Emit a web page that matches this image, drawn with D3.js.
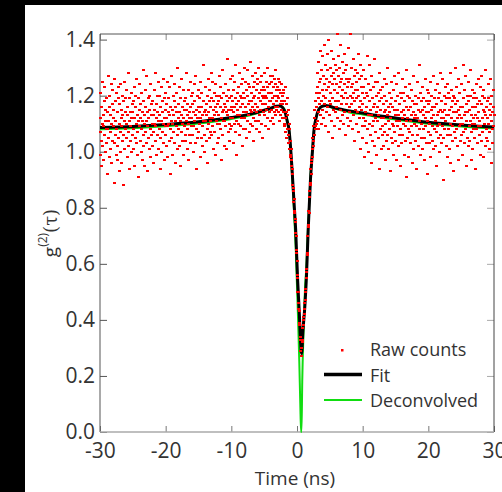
<!DOCTYPE html>
<html>
<head>
<meta charset="utf-8">
<script src="https://cdn.jsdelivr.net/npm/d3@7"></script>
<style>
  body { margin: 0; background: #000; }
  svg { display: block; }
</style>
</head>
<body>
<div id="chart"></div>
<script>
// raw coincidence counts, one value every 0.05 ns from -30 ns (one row = 1 ns)
var rawStart = -30, rawStep = 0.05;
var rawCounts = [
  1.12,0.99,1.21,1.07,1.04,1.16,0.95,1.10,1.25,1.02,1.13,1.09,0.97,1.18,1.06,1.23,1.11,1.00,1.15,1.08,
  1.03,1.19,1.14,0.92,1.08,1.27,1.05,1.11,0.98,1.20,1.16,1.01,1.07,1.13,1.24,0.96,1.10,1.17,1.04,1.22,
  1.09,1.15,1.12,0.89,1.26,1.03,1.06,1.18,1.11,0.99,1.08,1.21,1.14,0.97,1.02,1.19,1.23,1.05,1.10,0.93,
  1.17,1.07,1.00,1.24,1.12,1.09,1.15,0.96,1.20,1.04,1.13,1.18,0.88,1.06,1.11,1.25,1.01,1.14,1.08,1.19,
  1.05,1.22,1.10,1.13,0.98,1.16,1.07,1.28,1.02,1.11,0.94,1.19,1.09,1.14,1.04,1.21,1.12,1.00,1.17,1.06,
  1.14,1.01,1.18,1.08,1.23,0.95,1.12,1.05,1.16,1.20,1.03,1.10,1.26,0.99,1.13,1.07,1.19,0.91,1.11,1.15,
  1.09,1.24,1.04,1.12,1.17,1.00,1.21,1.08,0.97,1.14,1.11,1.29,1.06,1.02,1.18,1.13,0.95,1.10,1.22,1.07,
  1.16,1.03,1.11,1.27,1.09,1.14,0.93,1.19,1.05,1.12,1.20,1.01,1.15,1.08,1.24,0.98,1.13,1.06,1.17,1.10,
  1.02,1.18,1.13,1.07,0.96,1.22,1.10,1.15,1.04,1.28,1.09,1.12,0.99,1.17,1.06,1.20,1.14,1.01,1.25,1.11,
  1.13,1.08,1.20,0.94,1.16,1.05,1.11,1.23,1.00,1.14,1.18,1.07,1.10,1.26,1.03,1.12,0.97,1.19,1.09,1.15,
  1.21,1.06,1.12,1.17,1.02,1.25,1.09,0.98,1.14,1.10,1.19,1.04,1.23,1.13,0.92,1.16,1.08,1.27,1.11,1.05,
  1.10,1.15,0.99,1.20,1.13,1.07,1.18,1.24,1.03,1.11,1.16,0.96,1.09,1.21,1.14,1.06,1.30,1.01,1.12,1.17,
  1.08,1.23,1.14,1.02,1.11,1.19,0.95,1.13,1.07,1.26,1.10,1.16,1.04,1.12,1.22,0.99,1.15,1.09,1.18,1.06,
  1.19,1.04,1.11,1.15,1.28,1.08,1.13,1.01,1.17,1.10,0.97,1.22,1.14,1.06,1.12,1.25,1.03,1.16,1.09,1.20,
  1.12,1.17,1.06,1.21,1.00,1.14,1.09,1.24,1.11,1.18,1.03,1.13,1.27,0.94,1.15,1.08,1.20,1.12,1.05,1.16,
  1.22,1.07,1.14,1.10,1.19,0.98,1.25,1.12,1.05,1.16,1.21,1.09,1.13,1.02,1.18,1.11,1.31,1.06,1.14,1.00,
  1.15,1.11,1.23,1.04,1.17,1.13,1.08,1.20,0.96,1.14,1.26,1.10,1.18,1.05,1.12,1.22,1.07,1.16,1.11,1.28,
  1.06,1.19,1.12,1.25,1.09,1.15,1.01,1.18,1.13,1.21,1.07,1.16,0.99,1.24,1.11,1.14,1.20,1.03,1.17,1.10,
  1.18,1.13,1.05,1.20,1.27,1.10,1.16,1.08,1.23,1.12,0.97,1.19,1.14,1.29,1.06,1.15,1.11,1.21,1.02,1.17,
  1.11,1.24,1.16,1.09,1.14,1.01,1.20,1.13,1.18,1.33,1.07,1.15,1.22,1.10,1.04,1.19,1.12,1.26,1.08,1.16,
  1.20,1.09,1.15,1.27,1.12,1.18,1.03,1.22,1.14,1.10,1.25,1.16,1.07,1.19,1.31,1.11,1.17,0.99,1.21,1.13,
  1.15,1.23,1.10,1.18,1.06,1.28,1.13,1.20,1.16,1.09,1.24,1.12,1.19,1.02,1.17,1.26,1.14,1.21,1.08,1.30,
  1.12,1.19,1.25,1.08,1.16,1.22,1.14,1.05,1.20,1.29,1.11,1.17,1.24,1.13,1.18,1.07,1.23,1.15,1.32,1.10,
  1.21,1.14,1.18,1.27,1.09,1.16,1.23,1.12,1.19,1.04,1.25,1.15,1.20,1.11,1.28,1.17,1.08,1.22,1.14,1.26,
  1.16,1.24,1.11,1.19,1.30,1.13,1.21,1.07,1.18,1.25,1.15,1.22,1.10,1.27,1.17,1.20,1.05,1.23,1.14,1.19,
  1.22,1.13,1.28,1.17,1.20,1.09,1.25,1.15,1.19,1.23,1.12,1.30,1.16,1.21,1.08,1.24,1.18,1.14,1.27,1.11,
  1.18,1.25,1.15,1.21,1.12,1.27,1.19,1.23,1.10,1.17,1.26,1.14,1.20,1.24,1.16,1.29,1.13,1.22,1.18,1.15,
  1.23,1.16,1.20,1.26,1.14,1.19,1.22,1.11,1.25,1.17,1.21,1.13,1.18,1.24,1.15,1.20,1.12,1.17,1.22,1.14,
  1.21,1.10,1.18,1.09,1.23,1.12,1.07,1.17,1.14,1.05,1.19,1.08,1.13,1.03,1.15,1.06,1.10,1.01,1.08,0.99,
  1.04,0.98,1.01,0.95,0.97,0.92,0.94,0.88,0.87,0.86,0.82,0.83,0.78,0.79,0.75,0.76,0.71,0.70,0.65,0.64,
  0.61,0.56,0.55,0.50,0.50,0.46,0.44,0.43,0.39,0.38,0.34,0.33,0.29,0.30,0.27,0.30,0.32,0.33,0.37,0.38,
  0.40,0.41,0.42,0.44,0.46,0.47,0.50,0.51,0.55,0.57,0.58,0.63,0.64,0.70,0.73,0.74,0.79,0.78,0.84,0.86,
  0.88,0.89,0.94,0.92,0.97,0.96,1.01,0.98,1.05,1.02,1.09,1.04,1.12,1.06,1.15,1.08,1.18,1.09,1.21,1.10,
  1.16,1.23,1.11,1.28,1.19,1.14,1.32,1.08,1.25,1.17,1.21,1.36,1.13,1.26,1.18,1.10,1.29,1.22,1.15,1.34,
  1.20,1.12,1.27,1.38,1.17,1.24,1.09,1.31,1.19,1.26,1.14,1.22,1.35,1.16,1.29,1.07,1.23,1.40,1.18,1.25,
  1.13,1.30,1.21,1.17,1.27,1.11,1.36,1.24,1.19,1.05,1.28,1.15,1.33,1.22,1.09,1.26,1.18,1.31,1.14,1.24,
  1.29,1.16,1.42,1.21,1.12,1.27,1.18,1.34,1.08,1.23,1.30,1.15,1.25,1.38,1.11,1.20,1.26,1.17,1.32,1.13,
  1.22,1.28,1.10,1.19,1.35,1.24,1.14,1.29,1.06,1.21,1.26,1.17,1.31,1.12,1.23,1.19,1.37,1.09,1.25,1.16,
  1.14,1.26,1.20,1.42,1.11,1.23,1.17,1.30,1.08,1.24,1.19,1.33,1.13,1.21,1.27,1.04,1.18,1.29,1.15,1.22,
  1.25,1.10,1.19,1.28,1.14,1.22,1.35,1.07,1.20,1.16,1.26,1.12,1.31,1.18,1.01,1.23,1.15,1.27,1.09,1.21,
  1.17,1.05,1.23,1.12,1.29,1.09,1.19,0.98,1.14,1.26,1.11,1.21,1.03,1.16,1.34,1.08,1.20,1.13,1.00,1.24,
  1.10,1.18,1.31,1.06,1.15,1.22,0.96,1.13,1.27,1.09,1.19,1.04,1.16,1.23,1.11,1.33,1.02,1.17,1.12,1.25,
  1.07,1.20,1.14,0.99,1.25,1.11,1.16,1.05,1.21,1.13,0.94,1.18,1.28,1.08,1.15,1.22,1.01,1.12,1.19,1.06,
  1.23,1.09,1.17,1.12,1.02,1.26,1.14,1.07,1.20,0.97,1.15,1.10,1.24,1.04,1.18,1.13,1.30,1.06,1.11,1.16,
  1.01,1.14,1.21,1.08,1.17,0.93,1.12,1.25,1.05,1.19,1.10,1.16,1.03,1.22,1.09,0.99,1.15,1.27,1.07,1.13,
  1.18,1.04,1.11,1.24,0.97,1.15,1.09,1.20,1.13,1.02,1.28,1.06,1.17,1.11,0.95,1.21,1.08,1.14,1.19,1.03,
  1.12,1.26,1.06,1.15,1.10,1.21,0.99,1.13,1.18,1.04,1.09,1.23,0.91,1.16,1.11,1.29,1.05,1.12,1.20,1.08,
  1.15,0.98,1.19,1.07,1.24,1.11,1.03,1.16,1.09,1.22,1.13,0.96,1.18,1.06,1.14,1.27,1.01,1.10,1.17,1.12,
  1.04,1.20,1.13,1.09,0.94,1.17,1.25,1.06,1.12,1.19,1.02,1.15,1.08,1.31,1.11,0.99,1.14,1.21,1.05,1.18,
  1.10,1.15,1.01,1.23,1.08,1.13,1.19,0.97,1.16,1.05,1.26,1.12,1.09,1.18,1.03,1.14,1.22,0.92,1.11,1.17,
  1.07,1.21,1.14,1.03,1.18,1.10,1.25,1.06,0.98,1.15,1.12,1.20,1.04,1.16,1.09,1.27,1.01,1.13,1.19,1.08,
  1.16,1.02,1.11,1.22,1.07,0.95,1.17,1.13,1.24,1.09,1.05,1.19,1.14,1.00,1.21,1.10,1.15,1.28,1.06,1.12,
  1.03,1.18,1.09,1.14,1.26,1.05,1.12,0.90,1.20,1.15,1.08,1.23,1.11,1.17,1.02,1.13,1.19,1.06,1.24,0.98,
  1.13,1.08,1.21,1.01,1.15,1.19,1.06,1.28,1.10,0.96,1.16,1.12,1.22,1.04,1.18,1.09,0.93,1.14,1.20,1.07,
  1.19,1.11,1.05,1.17,1.30,1.08,1.14,1.23,1.02,1.12,1.18,0.97,1.15,1.26,1.09,1.13,1.21,1.04,1.10,1.16,
  1.06,1.24,1.12,0.99,1.16,1.10,1.31,1.07,1.19,1.13,1.03,1.22,1.08,1.14,1.27,0.95,1.17,1.11,1.05,1.20,
  1.14,1.02,1.18,1.25,1.09,1.15,1.04,1.20,1.11,1.29,1.07,1.13,0.97,1.16,1.22,1.10,1.01,1.19,1.12,1.08,
  1.21,1.10,1.05,1.16,1.13,0.94,1.19,1.08,1.24,1.12,1.17,1.03,1.14,1.26,1.09,1.18,1.06,1.11,1.23,0.99,
  1.09,1.17,1.27,1.04,1.12,1.20,1.07,1.15,0.98,1.22,1.10,1.14,1.19,1.02,1.13,1.29,1.08,1.16,1.05,1.18,
  1.12,1.04,1.19,1.10,1.24,1.07,1.15,1.01,1.17,1.13,1.26,0.96,1.11,1.20,1.08,1.14,1.03,1.22,1.16,1.09,
  1.13
];

// fit curve
var fitT = [-30,-25,-20,-15,-10,-7,-5,-4,-3.2,-2.6,-2.2,-1.8,-1.5,-1.2,-0.9,-0.66,-0.4,-0.2,0.1,0.35,0.55,0.7,
            0.9,1.2,1.45,1.7,2.05,2.35,2.6,2.9,3.3,3.8,4.4,5,6,7,8,10,12,15,20,25,30];
var fitG = [1.086,1.090,1.097,1.107,1.122,1.135,1.148,1.155,1.162,1.163,1.158,1.14,1.11,1.075,0.99,0.90,0.80,0.72,0.54,0.425,0.32,0.28,
            0.36,0.45,0.56,0.72,0.90,1.00,1.08,1.12,1.15,1.162,1.165,1.162,1.155,1.15,1.145,1.138,1.13,1.12,1.105,1.095,1.088];

// deconvolved curve
var decT = [-30,-25,-20,-15,-10,-7,-5,-4,-3.2,-2.6,-2.2,-1.8,-1.5,-1.2,-0.9,-0.66,-0.4,-0.2,0.1,0.35,0.5,0.62,0.68,
            0.8,1.0,1.2,1.45,1.7,2.05,2.35,2.6,2.9,3.3,3.8,4.4,5,6,7,8,10,12,15,20,25,30];
var decG = [1.080,1.084,1.091,1.101,1.117,1.131,1.145,1.153,1.160,1.163,1.160,1.145,1.115,1.075,0.98,0.88,0.76,0.66,0.45,0.25,0.10,0.0,0.0,
            0.18,0.36,0.50,0.60,0.74,0.91,1.01,1.08,1.12,1.15,1.162,1.164,1.160,1.152,1.146,1.140,1.133,1.125,1.115,1.100,1.090,1.083];

var xTicks = [-30,-20,-10,0,10,20,30];
var yTicks = [0,0.2,0.4,0.6,0.8,1.0,1.2,1.4];
var legendLabels = ["Raw counts","Fit","Deconvolved"];

var W = 502, H = 492;
var margin = {left: 100, top: 34, right: 8, bottom: 60};
var font = "'Open Sans', sans-serif";

var svg = d3.select("#chart").append("svg").attr("width", W).attr("height", H);
svg.append("rect").attr("width", W).attr("height", H).attr("fill", "#000");
svg.append("rect").attr("x", 25).attr("y", 5).attr("width", W - 25).attr("height", H - 5).attr("fill", "#fff");

var x = d3.scaleLinear().domain([-30, 30]).range([margin.left, W - margin.right]);
var y = d3.scaleLinear().domain([0, 1.42]).range([H - margin.bottom, margin.top]);

var raw = rawCounts.map(function(v, i) { return {t: rawStart + i * rawStep, g: v}; });
var fit = fitT.map(function(t, i) { return {t: t, g: fitG[i]}; });
var dec = decT.map(function(t, i) { return {t: t, g: decG[i]}; });

// axes, ticks pointing inwards
var gx = svg.append("g").attr("transform", "translate(0," + y(0) + ")")
  .call(d3.axisBottom(x).tickValues(xTicks).tickSize(-6).tickPadding(11).tickFormat(function(d) { return String(d); }));
var gy = svg.append("g").attr("transform", "translate(" + x(-30) + ",0)")
  .call(d3.axisLeft(y).tickValues(yTicks).tickSize(-7).tickPadding(5).tickFormat(d3.format(".1f")));
var gt = svg.append("g").attr("transform", "translate(0," + y(1.42) + ")")
  .call(d3.axisTop(x).tickValues(xTicks).tickSize(-6).tickFormat(""));
var gr = svg.append("g").attr("transform", "translate(" + x(30) + ",0)")
  .call(d3.axisRight(y).tickValues(yTicks).tickSize(-7).tickFormat(""));

[gx, gy, gt, gr].forEach(function(g) {
  g.select(".domain").remove();
  g.selectAll("text").attr("font-family", font).attr("font-size", 21).attr("fill", "#333");
});
gx.selectAll("line").attr("stroke", "#777");
gy.selectAll("line").attr("stroke", "#555");
gt.selectAll("line").attr("stroke", "#888");
gr.selectAll("line").attr("stroke", "#aaa");

// frame
svg.append("line").attr("x1", x(-30)).attr("x2", x(-30)).attr("y1", y(1.42)).attr("y2", y(0)).attr("stroke", "#555");
svg.append("line").attr("x1", x(-30)).attr("x2", x(30)).attr("y1", y(1.42)).attr("y2", y(1.42)).attr("stroke", "#555");
svg.append("line").attr("x1", x(30)).attr("x2", x(30)).attr("y1", y(1.42)).attr("y2", y(0)).attr("stroke", "#444");
svg.append("line").attr("x1", x(-30)).attr("x2", x(30)).attr("y1", y(0)).attr("y2", y(0)).attr("stroke", "#aaa").attr("stroke-width", 1.5);

var line = d3.line().x(function(d) { return x(d.t); }).y(function(d) { return y(d.g); }).curve(d3.curveMonotoneX);

svg.append("path").datum(dec).attr("d", line).attr("fill", "none").attr("stroke", "#11dd11").attr("stroke-width", 2);
svg.append("path").datum(fit).attr("d", line).attr("fill", "none").attr("stroke", "#000").attr("stroke-width", 3);

svg.append("g").attr("shape-rendering", "crispEdges").selectAll("rect").data(raw).join("rect")
  .attr("x", function(d) { return Math.round(x(d.t) - 1.5); })
  .attr("y", function(d) { return Math.round(y(d.g) - 1); })
  .attr("width", 3).attr("height", 2)
  .attr("fill", "#ff0000");

// axis titles
svg.append("text").attr("x", 295).attr("y", 485).attr("text-anchor", "middle")
  .attr("font-family", font).attr("font-size", 19).attr("fill", "#333").text("Time (ns)");

var yl = svg.append("text").attr("transform", "translate(57,233) rotate(-90)").attr("text-anchor", "middle")
  .attr("font-family", font).attr("font-size", 19).attr("fill", "#333");
yl.append("tspan").text("g");
yl.append("tspan").attr("dy", -10).attr("font-size", 12).text("(2)");
yl.append("tspan").attr("dy", 10).attr("font-family", "'DejaVu Serif', serif").attr("font-size", 18).text("(τ)");

// legend
var lg = svg.append("g").attr("font-family", font).attr("font-size", 18).attr("fill", "#333");
lg.append("rect").attr("x", 341).attr("y", 349).attr("width", 2.5).attr("height", 2.5).attr("fill", "#ff0000");
lg.append("line").attr("x1", 324).attr("x2", 362).attr("y1", 374.5).attr("y2", 374.5).attr("stroke", "#000").attr("stroke-width", 3.5);
lg.append("line").attr("x1", 324).attr("x2", 362).attr("y1", 400).attr("y2", 400).attr("stroke", "#11dd11").attr("stroke-width", 2);
legendLabels.forEach(function(s, i) {
  lg.append("text").attr("x", 370).attr("y", 356 + i * 25.5).text(s);
});
</script>
</body>
</html>
